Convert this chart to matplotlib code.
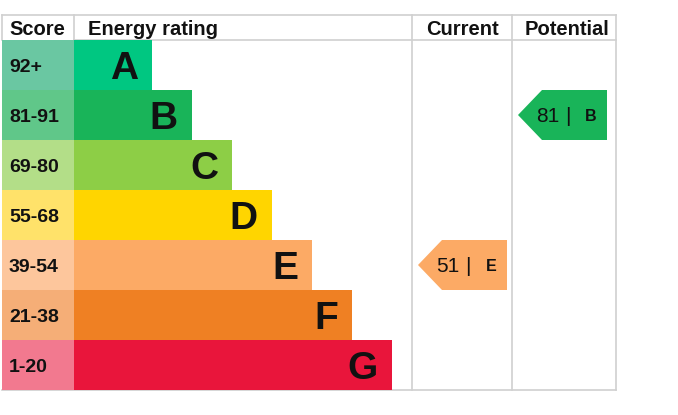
import matplotlib.pyplot as plt
from matplotlib.patches import Polygon

plt.rcParams['font.family'] = ['Liberation Sans', 'DejaVu Sans']

# ===== data =====
bands = ['A', 'B', 'C', 'D', 'E', 'F', 'G']
score_ranges = ['92+', '81-91', '69-80', '55-68', '39-54', '21-38', '1-20']
bar_colors = ['#00c781', '#19b459', '#8dce46', '#ffd500', '#fcaa65', '#ef8023', '#e9153b']
score_colors = ['#6ac7a2', '#60c789', '#b3de88', '#ffe26a', '#fdc69c', '#f5ae77', '#f2798f']
headers = ['Score', 'Energy rating', 'Current', 'Potential']

current_score, current_band = 51, 'E'
potential_score, potential_band = 81, 'B'

# ===== layout (pixels) =====
W, H = 678, 415
top, head_h, row_h = 15, 25, 50
x_left, x_score, x_cur, x_pot, x_right = 2, 74, 412, 512, 616
grid_col = '#d0d0d0'

fig = plt.figure(figsize=(W / 100, H / 100), dpi=100)
ax = fig.add_axes([0, 0, 1, 1])
ax.set_xlim(0, W)
ax.set_ylim(H, 0)
ax.axis('off')

y0 = top + head_h
bottom = y0 + row_h * len(bands)
centers = [y0 + row_h * (i + 0.5) for i in range(len(bands))]


def cap_text(x, yc, s, size, weight='normal', ha='left'):
    # put the baseline so that capitals sit centred on yc
    cap = 0.716 * size * 100 / 72
    ax.text(x, yc + cap / 2, s, fontsize=size, fontweight=weight,
            ha=ha, va='baseline', color='#111111')


# grid lines
lw = 1.2
ax.plot([x_left, x_right], [top, top], color=grid_col, lw=lw, zorder=1)
ax.plot([x_score, x_right], [y0, y0], color=grid_col, lw=lw, zorder=1)
ax.plot([x_left, x_right], [bottom, bottom], color=grid_col, lw=lw, zorder=1)
ax.plot([x_score, x_score], [top, y0], color=grid_col, lw=lw, zorder=1)
ax.plot([x_left, x_left], [top, y0], color=grid_col, lw=lw, zorder=1)
for x in (x_cur, x_pot, x_right):
    ax.plot([x, x], [top, bottom], color=grid_col, lw=lw, zorder=1)

# headers
hc = top + head_h / 2
cap_text(9, hc, headers[0], 14.5, 'bold')
cap_text(88, hc, headers[1], 14.5, 'bold')
cap_text((x_cur + x_pot) / 2, hc, headers[2], 14.5, 'bold', ha='center')
cap_text((x_pot + x_right) / 2 + 3, hc, headers[3], 14.5, 'bold', ha='center')

# score cells and rating bars
ax.barh(centers, [x_score - x_left] * len(bands), left=x_left, height=row_h,
        color=score_colors, zorder=2)
bar_w = [78 + 40 * i for i in range(len(bands))]
ax.barh(centers, bar_w, left=x_score, height=row_h, color=bar_colors, zorder=2)

for i, b in enumerate(bands):
    cap_text(9, centers[i], score_ranges[i], 14, 'bold')
    cap_text(x_score + bar_w[i] - 14, centers[i], b, 28, 'bold', ha='right')


def arrow(col_l, score, band):
    i = bands.index(band)
    yc = centers[i]
    tip = col_l + 6
    right = tip + 89
    pts = [(tip, yc), (tip + 24, yc - row_h / 2), (right, yc - row_h / 2),
           (right, yc + row_h / 2), (tip + 24, yc + row_h / 2)]
    ax.add_patch(Polygon(pts, closed=True, color=bar_colors[i], lw=0, zorder=3))
    cap_text(tip + 18, yc, str(score), 15)
    cap_text(tip + 50, yc, '|', 15, ha='center')
    cap_text(tip + 73, yc, band, 11.5, 'bold', ha='center')


arrow(x_cur, current_score, current_band)
arrow(x_pot, potential_score, potential_band)

fig.savefig('out.png', dpi=100)
